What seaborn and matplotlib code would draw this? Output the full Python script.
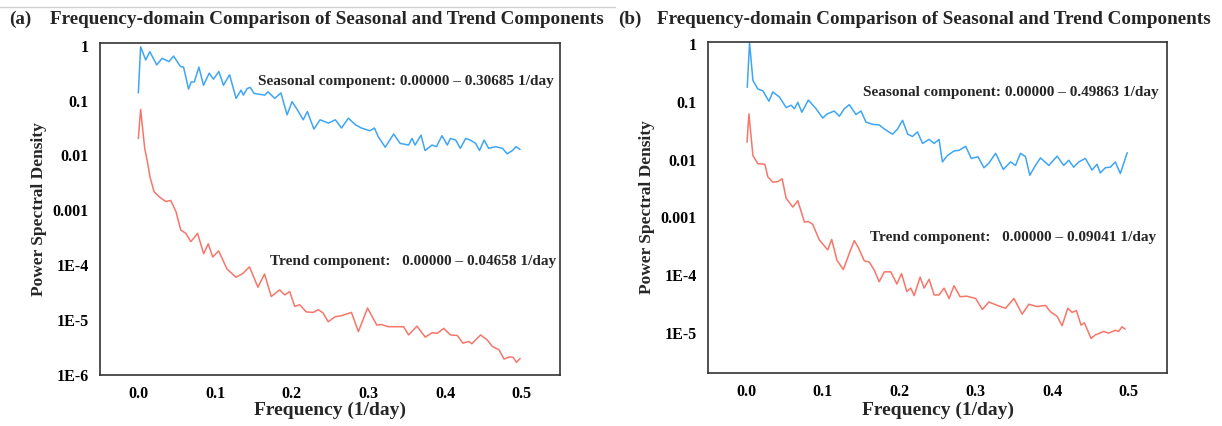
import numpy as np
import pandas as pd
import matplotlib
matplotlib.use("Agg")
import matplotlib.pyplot as plt
from matplotlib.lines import Line2D
import matplotlib.ticker as mticker
import seaborn as sns

# ---- data (frequency in 1/day, PSD as log10) ----
freq_a_seasonal = [0.0, 0.003, 0.0096, 0.015, 0.024, 0.031, 0.040, 0.046, 0.055, 0.059, 0.0655, 0.069, 0.073,
                   0.079, 0.085, 0.0925, 0.098, 0.105, 0.111, 0.119, 0.1275, 0.134, 0.137, 0.142, 0.146, 0.151,
                   0.165, 0.169, 0.178, 0.186, 0.194, 0.2005, 0.2075, 0.215, 0.2205, 0.229, 0.237, 0.248, 0.257,
                   0.265, 0.274, 0.283, 0.291, 0.302, 0.308, 0.313, 0.322, 0.333, 0.3415, 0.3525, 0.357, 0.361,
                   0.3687, 0.374, 0.383, 0.389, 0.396, 0.403, 0.407, 0.414, 0.420, 0.427, 0.433, 0.440, 0.445,
                   0.451, 0.457, 0.466, 0.475, 0.481, 0.488, 0.4925, 0.498]
logpsd_a_seasonal = [-0.86, -0.02, -0.26, -0.11, -0.35, -0.23, -0.29, -0.19, -0.38, -0.39, -0.79, -0.66, -0.66,
                     -0.39, -0.72, -0.50, -0.61, -0.47, -0.72, -0.53, -0.96, -0.81, -0.90, -0.78, -0.76, -0.87,
                     -0.90, -0.84, -0.96, -0.86, -1.26, -1.02, -1.17, -1.35, -1.20, -1.52, -1.35, -1.41, -1.35,
                     -1.50, -1.32, -1.44, -1.50, -1.55, -1.50, -1.66, -1.85, -1.61, -1.78, -1.81, -1.69, -1.81,
                     -1.63, -1.91, -1.81, -1.84, -1.64, -1.81, -1.69, -1.72, -1.87, -1.69, -1.72, -1.78, -1.91,
                     -1.72, -1.87, -1.84, -1.87, -1.97, -1.91, -1.84, -1.89]

freq_a_trend = [0.0, 0.003, 0.0083, 0.0118, 0.0152, 0.0205, 0.027, 0.0358, 0.0423, 0.049, 0.0554, 0.062, 0.0685,
                0.0773, 0.0852, 0.0912, 0.097, 0.1048, 0.1157, 0.1275, 0.1363, 0.145, 0.156, 0.1646, 0.1734,
                0.1843, 0.191, 0.1974, 0.204, 0.2105, 0.219, 0.228, 0.2346, 0.241, 0.2477, 0.2564, 0.265, 0.278,
                0.287, 0.299, 0.311, 0.317, 0.326, 0.337, 0.346, 0.3525, 0.3634, 0.3743, 0.383, 0.39, 0.3984,
                0.407, 0.416, 0.4233, 0.431, 0.435, 0.4464, 0.455, 0.4617, 0.4705, 0.477, 0.484, 0.489, 0.4932,
                0.498]
logpsd_a_trend = [-1.69, -1.16, -1.87, -2.11, -2.39, -2.66, -2.75, -2.84, -2.82, -3.02, -3.36, -3.42, -3.57,
                  -3.42, -3.79, -3.61, -3.85, -3.74, -4.07, -4.22, -4.15, -4.03, -4.40, -4.16, -4.57, -4.45,
                  -4.54, -4.48, -4.75, -4.72, -4.85, -4.86, -4.81, -4.87, -5.03, -4.94, -4.92, -4.86, -5.21,
                  -4.78, -5.09, -5.08, -5.12, -5.12, -5.12, -5.27, -5.11, -5.31, -5.23, -5.24, -5.15, -5.27,
                  -5.28, -5.42, -5.39, -5.43, -5.27, -5.36, -5.48, -5.54, -5.71, -5.67, -5.68, -5.77, -5.70]

freq_b_seasonal = [0.0013, 0.0043, 0.0087, 0.0152, 0.0217, 0.0296, 0.0348, 0.0435, 0.0522, 0.0587, 0.063, 0.0674,
                   0.0726, 0.0812, 0.0912, 0.100, 0.1057, 0.115, 0.1217, 0.1282, 0.1347, 0.1434, 0.150, 0.1565,
                   0.1652, 0.1739, 0.1804, 0.1912, 0.1978, 0.2043, 0.211, 0.2173, 0.2238, 0.2304, 0.239, 0.2456,
                   0.252, 0.2564, 0.2629, 0.2716, 0.278, 0.2868, 0.2942, 0.303, 0.3107, 0.3172, 0.326, 0.336,
                   0.3455, 0.352, 0.3585, 0.365, 0.3707, 0.378, 0.3846, 0.3955, 0.4064, 0.415, 0.4216, 0.428,
                   0.4346, 0.4433, 0.452, 0.4585, 0.4628, 0.4694, 0.476, 0.4824, 0.489, 0.498]
logpsd_b_seasonal = [-0.75, 0.02, -0.63, -0.78, -0.81, -0.99, -0.83, -0.92, -1.10, -1.06, -1.12, -1.01, -1.18,
                     -0.97, -1.12, -1.28, -1.21, -1.16, -1.25, -1.12, -1.05, -1.22, -1.16, -1.35, -1.39, -1.40,
                     -1.47, -1.56, -1.47, -1.32, -1.56, -1.60, -1.52, -1.72, -1.65, -1.72, -1.65, -2.04, -1.93,
                     -1.85, -1.84, -1.77, -1.98, -1.95, -2.14, -2.06, -1.89, -2.17, -2.04, -2.10, -1.89, -1.95,
                     -2.27, -2.10, -1.97, -2.10, -1.94, -2.10, -2.01, -2.13, -2.04, -1.98, -2.18, -2.08, -2.23,
                     -2.14, -2.13, -2.04, -2.24, -1.88]

freq_b_trend = [0.001, 0.0035, 0.0087, 0.0152, 0.0243, 0.0283, 0.0348, 0.0413, 0.0469, 0.0522, 0.0609, 0.0674,
                0.076, 0.0813, 0.0869, 0.0956, 0.1065, 0.1117, 0.1186, 0.1269, 0.1347, 0.1412, 0.1465, 0.1543,
                0.1608, 0.1673, 0.1738, 0.1804, 0.189, 0.1969, 0.203, 0.2099, 0.215, 0.2195, 0.2273, 0.2325,
                0.239, 0.2456, 0.252, 0.2586, 0.2651, 0.2716, 0.2795, 0.2881, 0.2999, 0.3086, 0.3172, 0.3281,
                0.339, 0.3499, 0.3607, 0.3694, 0.3803, 0.3911, 0.3977, 0.4064, 0.4129, 0.4203, 0.4259, 0.4316,
                0.4376, 0.442, 0.4507, 0.4564, 0.4672, 0.4737, 0.4824, 0.4868, 0.4911, 0.4954]
logpsd_b_trend = [-1.70, -1.21, -1.93, -2.07, -2.08, -2.30, -2.39, -2.38, -2.33, -2.67, -2.82, -2.71, -3.08,
                  -3.07, -3.12, -3.39, -3.56, -3.38, -3.74, -3.90, -3.62, -3.40, -3.52, -3.75, -3.77, -3.91,
                  -4.11, -3.94, -3.94, -4.15, -3.97, -4.28, -4.22, -4.35, -4.03, -4.22, -4.07, -4.34, -4.34,
                  -4.22, -4.40, -4.18, -4.37, -4.36, -4.40, -4.59, -4.46, -4.52, -4.57, -4.40, -4.67, -4.50,
                  -4.54, -4.52, -4.63, -4.71, -4.87, -4.57, -4.64, -4.61, -4.86, -4.82, -5.09, -5.03, -4.97,
                  -5.00, -4.95, -4.97, -4.89, -4.93]

seasonal_text = ["Seasonal component: 0.00000 \u2013 0.30685 1/day",
                 "Seasonal component: 0.00000 \u2013 0.49863 1/day"]
trend_text = ["Trend component:   0.00000 \u2013 0.04658 1/day",
              "Trend component:   0.00000 \u2013 0.09041 1/day"]
panel_tags = ["(a)", "(b)"]
title_text = "Frequency-domain Comparison of Seasonal and Trend Components"
ytick_vals = [1, 0.1, 0.01, 0.001, 1e-4, 1e-5, 1e-6]
ytick_labels = ["1", "0.1", "0.01", "0.001", "1E-4", "1E-5", "1E-6"]
xtick_vals = [0.0, 0.1, 0.2, 0.3, 0.4, 0.5]

blue = "#3ea6f5"
red = "#f7766a"

sns.set_style("white")
plt.rcParams["font.family"] = ["Liberation Serif", "DejaVu Serif"]
plt.rcParams["font.weight"] = "bold"

def make_df(f_s, l_s, f_t, l_t):
    d1 = pd.DataFrame({"freq": f_s, "psd": 10 ** np.array(l_s), "comp": "Seasonal"})
    d2 = pd.DataFrame({"freq": f_t, "psd": 10 ** np.array(l_t), "comp": "Trend"})
    return pd.concat([d1, d2], ignore_index=True)

dfs = [make_df(freq_a_seasonal, logpsd_a_seasonal, freq_a_trend, logpsd_a_trend),
       make_df(freq_b_seasonal, logpsd_b_seasonal, freq_b_trend, logpsd_b_trend)]

fig = plt.figure(figsize=(12.22, 4.26), dpi=100)
W, H = 1222, 426
boxes = [(100, 43, 560, 375), (708, 42, 1167, 373)]
ylims = [(1e-6, 1.12), (2.05e-6, 1.08)]
seas_pos = [(258, 82), (863, 93)]
trend_pos = [(270, 262), (870, 238)]
ylab_x = [39, 647]
title_x = [(9, 50), (618, 657)]

for i in range(2):
    x0, y0, x1, y1 = boxes[i]
    ax = fig.add_axes([x0 / W, 1 - y1 / H, (x1 - x0) / W, (y1 - y0) / H])
    sns.lineplot(data=dfs[i], x="freq", y="psd", hue="comp", palette=[blue, red],
                 linewidth=1.1, ax=ax, legend=False, estimator=None, sort=False)
    ax.set_yscale("log")
    ax.set_ylim(*ylims[i])
    ax.set_xlim(-0.05, 0.55)
    ax.yaxis.set_major_locator(mticker.FixedLocator(ytick_vals))
    ax.yaxis.set_major_formatter(mticker.FixedFormatter(ytick_labels))
    ax.yaxis.set_minor_locator(mticker.NullLocator())
    ax.set_xticks(xtick_vals)
    ax.set_xticklabels([f"{v:.1f}" for v in xtick_vals])
    ax.tick_params(direction="in", length=4, width=1, labelsize=11.5, pad=8, colors="#222222")
    for lab in ax.get_xticklabels() + ax.get_yticklabels():
        lab.set_fontweight("bold")
        lab.set_color("black")
    for sp in ax.spines.values():
        sp.set_linewidth(1.2)
        sp.set_color("#333333")
    ax.set_xlabel("")
    ax.set_ylabel("")
    fig.text(ylab_x[i] / W, 1 - (y0 + y1) / 2 / H, "Power Spectral Density", rotation=90,
             ha="center", va="center", fontsize=12.5, fontweight="bold")
    fig.text((x0 + x1) / 2 / W, 1 - 410 / H, "Frequency (1/day)", ha="center", va="center",
             fontsize=14, fontweight="bold")
    fig.text(seas_pos[i][0] / W, 1 - seas_pos[i][1] / H, seasonal_text[i], ha="left", va="center",
             fontsize=11, fontweight="bold")
    fig.text(trend_pos[i][0] / W, 1 - trend_pos[i][1] / H, trend_text[i], ha="left", va="center",
             fontsize=11, fontweight="bold")
    fig.text(title_x[i][0] / W, 1 - 19 / H, panel_tags[i], ha="left", va="center",
             fontsize=13.8, fontweight="bold")
    fig.text(title_x[i][1] / W, 1 - 19 / H, title_text, ha="left", va="center",
             fontsize=13.8, fontweight="bold")

fig.add_artist(Line2D([0, 615 / W], [1 - 7 / H, 1 - 7 / H], color="#d0d0d0", linewidth=1))

fig.savefig("out.png", dpi=100)
